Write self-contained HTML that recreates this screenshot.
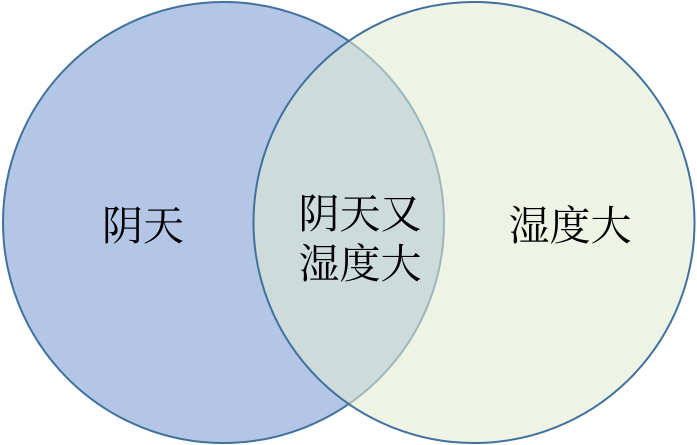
<!DOCTYPE html>
<html><head><meta charset="utf-8"><style>
html,body{margin:0;padding:0;background:#fff;}
svg{display:block}
text{font-family:"Liberation Serif","Noto Serif CJK SC",serif;font-size:41px;fill:#000;text-anchor:middle;}
</style></head><body>
<svg width="697" height="445" viewBox="0 0 697 445">
<circle cx="223.5" cy="222.5" r="220.5" fill="#b3c6e6" stroke="#41719c" stroke-width="2"/>
<circle cx="474" cy="222.5" r="220.5" fill="rgba(224,234,210,0.58)" stroke="#41719c" stroke-width="2"/>
<text x="143" y="240">阴天</text>
<text x="360" y="228">阴天又</text>
<text x="360" y="278">湿度大</text>
<text x="570" y="240">湿度大</text>
</svg>
</body></html>
